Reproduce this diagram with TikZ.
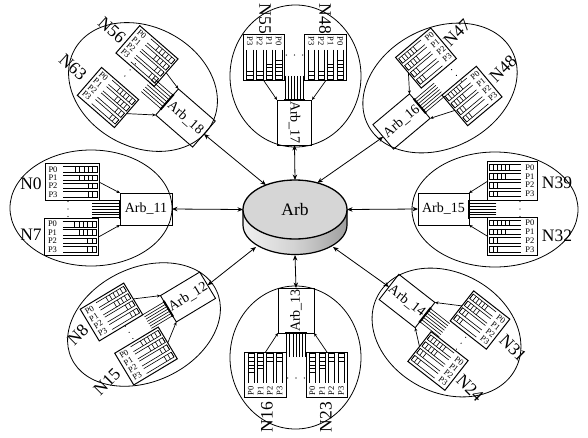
\documentclass[tikz,border=0pt]{standalone}
\usepackage{fontspec}
\setmainfont{Liberation Serif}
\usetikzlibrary{arrows.meta,shapes.geometric}
\tikzset{
  clusterring/.style={ellipse,draw,line width=.8pt,inner sep=0pt,outer sep=0pt},
  blockbox/.style={rectangle,draw,line width=1pt,minimum width=54pt,minimum height=37pt,inner sep=0pt,outer sep=0pt},
  arbbox/.style={rectangle,draw,line width=.9pt,minimum width=52pt,minimum height=32pt,inner sep=0pt,outer sep=0pt},
  plabel/.style={font=\fontsize{8.5}{8.5}\selectfont,inner sep=0pt},
  arbtext/.style={font=\fontsize{14}{14}\selectfont,inner sep=0pt},
  nlabel/.style={font=\fontsize{17.5}{17.5}\selectfont,inner sep=0pt},
  feed/.style={line width=.7pt,-{Stealth[length=3.5pt,width=3pt]}},
  link/.style={line width=.8pt,{Stealth[length=5.5pt,width=4.5pt]}-{Stealth[length=5.5pt,width=4.5pt]}},
  queue/.style={line width=.6pt},
  busline/.style={line width=.6pt}
}
% id, x, y, transform, text rotation
\newcommand{\blockunit}[5]{%
  \begin{scope}[shift={(#2,#3)},#4]
    \node[blockbox,transform shape] (#1) at (0,0) {};
    \foreach \r/\yy/\st in {0/-13/3,1/-4.5/7.4,2/3.8/12,3/12.5/12}{
      \node[plabel,rotate=#5] (#1p\r) at (-19,\yy) {P\r};
      \draw[queue] (-9,\yy-2.8) -- (25,\yy-2.8) -- (25,\yy+2.8) -- (-9,\yy+2.8);
      \foreach \d in {0,1,...,5}{
        \pgfmathsetmacro{\xd}{25-\d*4.4}
        \pgfmathparse{\xd>=\st-.1?1:0}
        \ifnum\pgfmathresult=1
          \draw[queue] (\xd,\yy-2.8) -- (\xd,\yy+2.8);
        \fi
      }
    }
  \end{scope}}
% id, x, y, transform, text rotation, label
\newcommand{\arbunit}[6]{%
  \begin{scope}[shift={(#2,#3)},#4]
    \node[arbbox,transform shape] (#1) at (0,0) {};
    \node[arbtext,rotate=#5] (#1t) at (0,0) {#6};
    \foreach \yy in {-8.4,-5.6,...,8.5}{\draw[busline] (-54,\yy) -- (-26,\yy);}
    \draw[line width=2pt] (-26,-9.5) -- (-26,9.5);
    \fill (-78,-7.5) circle (.7) (-78,0) circle (.7) (-78,7.5) circle (.7);
  \end{scope}}
\begin{document}
\begin{tikzpicture}[x=1pt,y=-1pt]
\useasboundingbox (0,0) rectangle (588,437);
% rings
\node[clusterring,minimum width=162pt,minimum height=116pt] (r11) at (91,208) {};
\node[clusterring,minimum width=166pt,minimum height=115pt] (r15) at (495,209.5) {};
\node[clusterring,minimum width=131pt,minimum height=142pt] (r17) at (295.5,76) {};
\node[clusterring,minimum width=131pt,minimum height=143pt] (r13) at (295.5,357.5) {};
\node[clusterring,minimum width=156pt,minimum height=120pt,rotate=-28] (r18) at (143,87) {};
\node[clusterring,minimum width=162pt,minimum height=120pt,rotate=27] (r16) at (440,88) {};
\node[clusterring,minimum width=156pt,minimum height=120pt,rotate=-28] (r14) at (446.5,332.5) {};
\node[clusterring,minimum width=160pt,minimum height=114pt,rotate=25] (r12) at (144,324.5) {};
% hub
\shade[left color=gray!12,right color=gray!75,middle color=gray!35,draw=black,line width=1.2pt]
  (243,210) -- (243,225) arc[start angle=180,end angle=360,x radius=52pt,y radius=29.5pt] -- (347,210) -- cycle;
\node[ellipse,draw,line width=1.3pt,fill=gray!32,minimum width=104pt,minimum height=59pt,inner sep=0pt,outer sep=0pt,font=\fontsize{17.5}{18}\selectfont] (hub) at (295,209.5) {Arb};
\coordinate (hubS) at (295,255);
\coordinate (hubSW) at (256,247);
\coordinate (hubSE) at (333,247);
% west
\arbunit{a11}{146}{209}{}{0}{Arb\_11}
\blockunit{b0}{72}{182}{yscale=.98}{0}
\blockunit{b7}{71.5}{237}{}{0}
\node[nlabel] (n0) at (31,184) {N0};
\node[nlabel] (n7) at (31,235) {N7};
\draw[feed] (b0.east) -- (a11.north west);
\draw[feed] (b7.east) -- (a11.south west);
% east
\arbunit{a15}{443.5}{209}{xscale=-.98}{0}{Arb\_15}
\blockunit{b39}{512.5}{181}{xscale=-.91,yscale=1.03}{0}
\blockunit{b32}{512.5}{236.5}{xscale=-.91,yscale=1.05}{0}
\node[nlabel] (n39) at (557,183) {N39};
\node[nlabel] (n32) at (557,236) {N32};
\draw[feed] (b39.east) -- (a15.north west);
\draw[feed] (b32.east) -- (a15.south west);
% north
\arbunit{a17}{294.5}{122.5}{rotate=-90,xscale=.865,yscale=1.09}{-90}{Arb\_17}
\blockunit{b48a}{325.5}{57.5}{rotate=-90,xscale=.87,yscale=1.13}{-90}
\blockunit{b55}{264}{57.5}{rotate=-90,xscale=.87,yscale=1.13}{-90}
\node[nlabel,rotate=-90] (n55) at (265,19) {N55};
\node[nlabel,rotate=-90] (n48a) at (325,19) {N48};
\draw[feed] (b48a.east) -- (a17.north west);
\draw[feed] (b55.east) -- (a17.south west);
% south
\arbunit{a13}{296}{310.5}{rotate=90,xscale=.865,yscale=1.125}{90}{Arb\_13}
\blockunit{b16}{265.5}{375}{rotate=90,xscale=.85,yscale=1.12}{90}
\blockunit{b23}{327}{375}{rotate=90,xscale=.85,yscale=1.12}{90}
\node[nlabel,rotate=90] (n16) at (267,417) {N16};
\node[nlabel,rotate=90] (n23) at (326,417) {N23};
\draw[feed] (b16.east) -- (a13.north west);
\draw[feed] (b23.east) -- (a13.south west);
% north-west
\arbunit{a18}{185.5}{118}{rotate=-41,xscale=.94,yscale=1.08}{-41}{Arb\_18}
\blockunit{b56}{147}{56}{rotate=-41,xscale=.94,yscale=.98}{-41}
\blockunit{b63}{108}{97.5}{rotate=-41,xscale=.91,yscale=1}{-41}
\node[nlabel,rotate=-42] (n56) at (112,30) {N56};
\node[nlabel,rotate=-42] (n63) at (73,67) {N63};
\draw[feed] (b56.east) -- (a18.north west);
\draw[feed] (b63.east) -- (a18.south west);
% north-east
\arbunit{a16}{401.5}{121.5}{rotate=40,xscale=-.92}{40}{Arb\_16}
\blockunit{b47}{426}{58}{rotate=40,xscale=-.85,yscale=1.08}{40}
\blockunit{b48b}{472}{96}{rotate=40,xscale=-.83,yscale=1.08}{40}
\node[nlabel,rotate=45] (n47) at (457,33) {N47};
\node[nlabel,rotate=45] (n48b) at (503,69) {N48};
\draw[feed] (b47.east) -- (a16.north west);
\draw[feed] (b48b.east) -- (a16.south west);
% south-east
\arbunit{a14}{407}{301}{rotate=-38,xscale=-.88}{-38}{Arb\_14}
\blockunit{b31}{480}{320}{rotate=-38,xscale=-.85,yscale=1.03}{-38}
\blockunit{b24}{438}{361}{rotate=-38,xscale=-.87,yscale=1.02}{-38}
\node[nlabel,rotate=-45] (n31) at (513,348) {N31};
\node[nlabel,rotate=-45] (n24) at (470,388) {N24};
\draw[feed] (b31.east) -- (a14.north west);
\draw[feed] (b24.east) -- (a14.south west);
% south-west
\arbunit{a12}{188}{297}{rotate=31,xscale=.88,yscale=.96}{31}{Arb\_12}
\blockunit{b8}{111.5}{312}{rotate=31,xscale=.94}{31}
\blockunit{b15}{146}{356}{rotate=31,xscale=.94}{31}
\node[nlabel,rotate=45] (n8) at (78,335) {N8};
\node[nlabel,rotate=45] (n15) at (107,382) {N15};
\draw[feed] (b8.east) -- (a12.north west);
\draw[feed] (b15.east) -- (a12.south west);
% links to the hub
\draw[link] (a11.east) -- (hub.west);
\draw[link] (a15.east) -- (hub.east);
\draw[link] (a17.east) -- (hub.north);
\draw[link] (a13.east) -- (hubS);
\draw[link] (a18.east) -- (hub.140);
\draw[link] (a16.east) -- (hub.50);
\draw[link] (a14.east) -- (hubSE);
\draw[link] (a12.east) -- (hubSW);
\end{tikzpicture}
\end{document}
